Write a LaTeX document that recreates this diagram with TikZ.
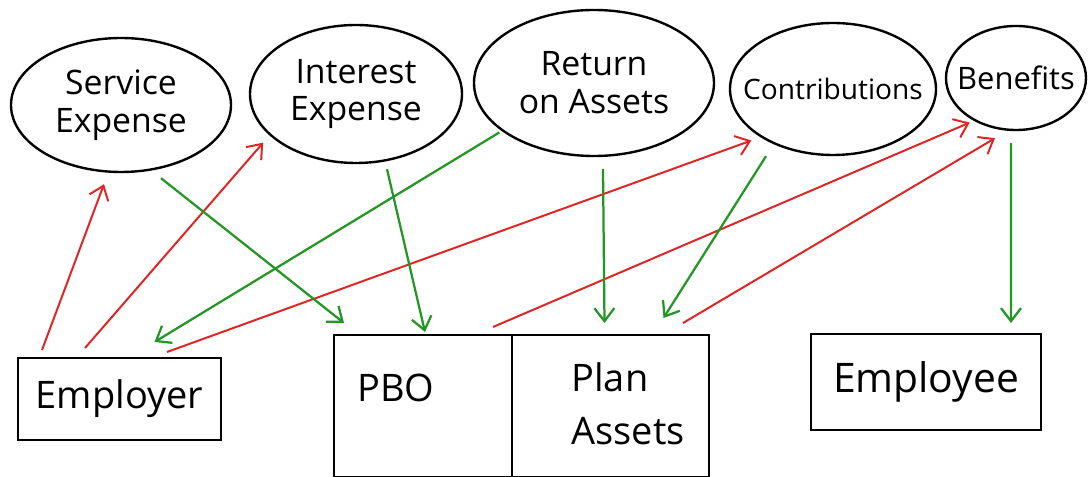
\documentclass[tikz,border=0pt]{standalone}
\usepackage{fontspec}
\setmainfont{Open Sans}
\usetikzlibrary{arrows.meta, positioning, shapes.geometric}

\definecolor{flowred}{RGB}{225,35,35}
\definecolor{flowgreen}{RGB}{35,150,35}

\tikzset{
  bubble/.style={ellipse, draw, line width=1.7pt, inner sep=-6mm, align=center, font=\fontsize{24}{27}\selectfont},
  account/.style={rectangle, draw, line width=1.7pt, inner sep=0pt, outer sep=0pt, font=\fontsize{27}{32}\selectfont},
  paid/.style={->, flowred, line width=1.4pt},
  funded/.style={->, flowgreen, line width=1.6pt},
}

\begin{document}
\begin{tikzpicture}[x=0.25mm, y=-0.25mm, >={Straight Barb[length=3.25mm, width=5mm]}]
    \useasboundingbox (0,0) rectangle (1088,477);

    % flows along the top
    \node [bubble, minimum width=55mm, minimum height=33.5mm] (service) at (121,105) {Service\\Expense};
    \node [bubble, minimum width=53mm, minimum height=34.5mm] (interest) at (356,94) {Interest\\Expense};
    \node [bubble, minimum width=60mm, minimum height=36.5mm] (roa) at (594,83) {Return\\on Assets};
    \node [bubble, minimum width=51.5mm, minimum height=33mm, font=\fontsize{20}{24}\selectfont] (contrib) at (833,89) {Contributions};
    \node [bubble, minimum width=35mm, minimum height=26mm, font=\fontsize{22}{26}\selectfont] (benefits) at (1016,78) {Benefits};

    % parties and the plan
    \node [account, minimum width=50.75mm, minimum height=20.5mm] (employer) at (119.5,399) {Employer};
    \node [account, minimum width=44.5mm, minimum height=35.5mm] (pbo) at (423,406) {};
    \node [account, minimum width=49.25mm, minimum height=35.5mm, right=0mm of pbo] (plan) {};
    \node [account, minimum width=57.5mm, minimum height=24mm, font=\fontsize{29}{34}\selectfont] (employee) at (926,382) {Employee};
    \node [font=\fontsize{27}{32}\selectfont] (pbolabel) at (396,388) {PBO};
    \node [font=\fontsize{27}{38}\selectfont, align=left] (planlabel) at (628,404) {Plan\\Assets};

    % red: paid in
    \draw[paid] ([xshift=6mm, yshift=2mm]employer.north west) -- ([xshift=-4.25mm, yshift=-2.75mm]service.south);
    \draw[paid] ([xshift=16.75mm, yshift=2.5mm]employer.north west) -- ([xshift=-4.25mm, yshift=0.25mm]interest.south west);
    \draw[paid] ([xshift=37.25mm, yshift=1.5mm]employer.north west) -- ([xshift=-2mm, yshift=-1mm]contrib.south west);
    \draw[paid] ([xshift=-4.75mm, yshift=2mm]pbo.north east) -- ([xshift=1mm, yshift=-1.75mm]benefits.south west);
    \draw[paid] ([xshift=-6.5mm, yshift=3mm]plan.north east) -- ([xshift=-5.25mm, yshift=-1.75mm]benefits.south);

    % green: paid out
    \draw[funded] ([xshift=10mm, yshift=-1.25mm]service.south) -- ([xshift=2.5mm, yshift=3mm]pbo.north west);
    \draw[funded] ([xshift=7.75mm, yshift=-1.25mm]interest.south) -- ([xshift=0.5mm, yshift=0.75mm]pbo.north);
    \draw[funded] ([xshift=-2.25mm, yshift=0.75mm]roa.south west) -- ([xshift=8.75mm, yshift=4mm]employer.north);
    \draw[funded] ([xshift=2.25mm, yshift=-3mm]roa.south) -- ([xshift=-1.5mm, yshift=3mm]plan.north);
    \draw[funded] ([xshift=-16.75mm]contrib.south) -- ([xshift=13.25mm, yshift=4.25mm]plan.north);
    \draw[funded] ([xshift=-1.25mm, yshift=-3mm]benefits.south) -- ([xshift=21.25mm, yshift=2.75mm]employee.north);
\end{tikzpicture}
\end{document}
